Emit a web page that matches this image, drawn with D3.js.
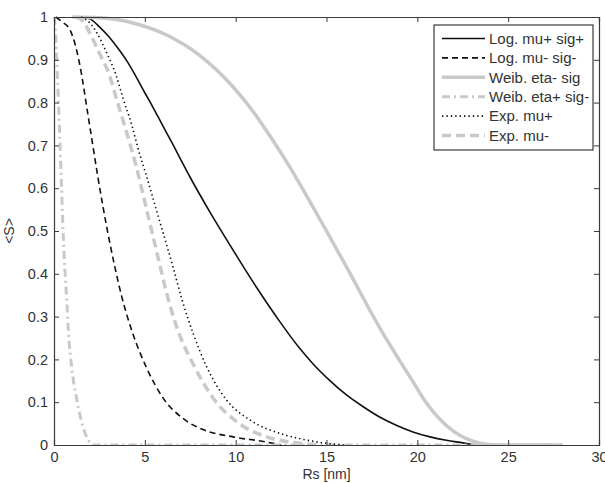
<!DOCTYPE html>
<html>
<head>
<meta charset="utf-8">
<script src="https://cdn.jsdelivr.net/npm/d3@7"></script>
<style>
  html, body { margin: 0; padding: 0; background: #fff; }
  svg { display: block; font-family: "Liberation Sans", Arial, sans-serif; }
</style>
</head>
<body>
<svg id="chart" width="605" height="483"></svg>
<script>
// Survival probability <S> versus radius Rs for six distribution variants.

// Log-normal, mu+ sig+
const rsLogPP = [1.5, 2.0, 2.5, 3.0, 3.5, 4.0, 4.5, 5.0, 5.5, 6.0, 6.5, 7.0, 7.5, 8.0, 8.6, 9.5, 10.3, 11.2, 12.4, 13.5, 14.25, 15.2, 16.1, 17.0, 17.9, 18.9, 19.8, 20.7, 21.6, 22.5, 23.2];
const sLogPP  = [1.0, 0.995, 0.977, 0.955, 0.928, 0.898, 0.862, 0.823, 0.785, 0.745, 0.706, 0.665, 0.625, 0.587, 0.543, 0.48, 0.425, 0.365, 0.29, 0.227, 0.19, 0.15, 0.117, 0.09, 0.066, 0.045, 0.03, 0.019, 0.011, 0.005, 0.0];

// Log-normal, mu- sig-
const rsLogMM = [0.1, 0.4, 0.88, 1.2, 1.5, 1.8, 2.1, 2.4, 2.7, 3.35, 3.74, 4.3, 5.1, 6.0, 7.1, 8.2, 9.85, 11.7, 12.5];
const sLogMM  = [1.0, 0.99, 0.97, 0.93, 0.87, 0.79, 0.71, 0.63, 0.556, 0.416, 0.345, 0.265, 0.18, 0.11, 0.062, 0.036, 0.019, 0.007, 0.0];

// Weibull, eta- sig
const rsWeibM = [1.0, 2.5, 4.35, 6.2, 8.0, 9.85, 11.0, 12.0, 13.0, 14.0, 15.0, 16.1, 17.9, 19.8, 20.5, 21.2, 22.0, 22.7, 23.6, 24.5, 28.0];
const sWeibM  = [1.0, 0.998, 0.986, 0.958, 0.911, 0.837, 0.777, 0.715, 0.648, 0.575, 0.5, 0.416, 0.276, 0.145, 0.098, 0.062, 0.032, 0.015, 0.003, 0.0, 0.0];

// Weibull, eta+ sig-
const rsWeibP = [0.0, 0.1, 0.2, 0.3, 0.4, 0.5, 0.6, 0.7, 0.8, 0.97, 1.26, 1.6, 2.0, 2.2, 28.0];
const sWeibP  = [1.0, 0.95, 0.85, 0.74, 0.62, 0.5, 0.41, 0.339, 0.26, 0.183, 0.105, 0.042, 0.005, 0.0, 0.0];

// Exponential, mu+
const rsExpP = [1.5, 2.0, 2.4, 2.9, 3.4, 3.8, 4.3, 4.6, 5.1, 5.7, 6.55, 7.05, 7.7, 8.4, 9.5, 10.8, 12.6, 13.5, 14.8, 16.0];
const sExpP  = [1.0, 0.985, 0.96, 0.916, 0.866, 0.81, 0.745, 0.697, 0.627, 0.54, 0.416, 0.339, 0.256, 0.183, 0.105, 0.058, 0.025, 0.015, 0.005, 0.0];

// Exponential, mu-
const rsExpM = [1.2, 1.6, 2.0, 2.5, 3.0, 3.5, 4.0, 4.5, 5.1, 5.8, 6.2, 6.8, 7.65, 8.75, 10.1, 11.7, 13.4, 14.5];
const sExpM  = [1.0, 0.99, 0.96, 0.915, 0.87, 0.8, 0.73, 0.655, 0.55, 0.425, 0.355, 0.27, 0.19, 0.11, 0.053, 0.019, 0.005, 0.0];

const legendLabels = ["Log. mu+ sig+", "Log. mu- sig-", "Weib. eta- sig", "Weib. eta+ sig-", "Exp. mu+", "Exp. mu-"];
const xTicks = [0, 5, 10, 15, 20, 25, 30];
const yTicks = [0, 0.1, 0.2, 0.3, 0.4, 0.5, 0.6, 0.7, 0.8, 0.9, 1];
const xLabel = "Rs [nm]";
const yLabel = "<S>";

const lightGray = "#c9c9c9";
const styles = [
  { color: "#111", width: 1.6, dash: null },
  { color: "#111", width: 1.6, dash: "6,4" },
  { color: lightGray, width: 3.5, dash: null },
  { color: lightGray, width: 3, dash: "8,4,2,4" },
  { color: "#111", width: 1.6, dash: "1.4,3" },
  { color: lightGray, width: 3.5, dash: "9,5" }
];

const seriesData = [
  [rsLogPP, sLogPP], [rsLogMM, sLogMM], [rsWeibM, sWeibM],
  [rsWeibP, sWeibP], [rsExpP, sExpP], [rsExpM, sExpM]
].map(([xs, ys], i) => ({
  label: legendLabels[i],
  style: styles[i],
  points: xs.map((x, j) => ({ x, y: ys[j] }))
}));

const svg = d3.select("#chart");
const plot = { left: 54, right: 599, top: 17, bottom: 445 };

const x = d3.scaleLinear().domain([0, 30]).range([plot.left, plot.right]);
const y = d3.scaleLinear().domain([0, 1]).range([plot.bottom, plot.top]);

const axisColor = "#3a3a3a";
const textColor = "#333";
const tickFont = "14.5px";

// Curves
const line = d3.line().x(d => x(d.x)).y(d => y(d.y)).curve(d3.curveMonotoneX);
svg.append("clipPath").attr("id", "plotClip")
  .append("rect")
  .attr("x", plot.left).attr("y", plot.top - 3)
  .attr("width", plot.right - plot.left).attr("height", plot.bottom - plot.top + 3);

const curves = svg.append("g").attr("clip-path", "url(#plotClip)");
seriesData.forEach(s => {
  curves.append("path")
    .datum(s.points)
    .attr("d", line)
    .attr("fill", "none")
    .attr("stroke", s.style.color)
    .attr("stroke-width", s.style.width)
    .attr("stroke-dasharray", s.style.dash)
    .attr("stroke-linejoin", "round");
});

// Axes with inward ticks on all four sides
const tickLen = 5;
const fmtY = d => (d === 0 || d === 1) ? String(d) : d3.format(".1f")(d);

const bottomAxis = d3.axisBottom(x).tickValues(xTicks).tickSize(-tickLen).tickPadding(7).tickFormat(d3.format("d"));
const topAxis = d3.axisTop(x).tickValues(xTicks).tickSize(-tickLen).tickFormat("");
const leftAxis = d3.axisLeft(y).tickValues(yTicks).tickSize(-tickLen).tickPadding(6).tickFormat(fmtY);
const rightAxis = d3.axisRight(y).tickValues(yTicks).tickSize(-tickLen).tickFormat("");

function styleAxis(g) {
  g.select(".domain").attr("stroke", axisColor).attr("stroke-width", 1.2);
  g.selectAll(".tick line").attr("stroke", axisColor).attr("stroke-width", 1);
  g.selectAll(".tick text")
    .attr("fill", textColor)
    .style("font-family", "'Liberation Sans', Arial, sans-serif")
    .style("font-size", tickFont);
}

svg.append("g").attr("transform", `translate(0,${plot.bottom})`).call(bottomAxis).call(styleAxis);
svg.append("g").attr("transform", `translate(0,${plot.top})`).call(topAxis).call(styleAxis);
svg.append("g").attr("transform", `translate(${plot.left},0)`).call(leftAxis).call(styleAxis);
svg.append("g").attr("transform", `translate(${plot.right},0)`).call(rightAxis).call(styleAxis);

// Axis titles
svg.append("text")
  .attr("x", (plot.left + plot.right) / 2)
  .attr("y", 479)
  .attr("text-anchor", "middle")
  .attr("fill", textColor)
  .style("font-size", "14px")
  .text(xLabel);

svg.append("text")
  .attr("transform", `translate(14,${(plot.top + plot.bottom) / 2}) rotate(-90)`)
  .attr("text-anchor", "middle")
  .attr("fill", textColor)
  .style("font-size", "14px")
  .text(yLabel);

// Legend
const legend = { x: 434, y: 25, w: 159, h: 125, rowTop: 38.5, rowStep: 19.4 };
const lg = svg.append("g");
lg.append("rect")
  .attr("x", legend.x).attr("y", legend.y)
  .attr("width", legend.w).attr("height", legend.h)
  .attr("fill", "#fff")
  .attr("stroke", axisColor)
  .attr("stroke-width", 1.2);

seriesData.forEach((s, i) => {
  const ry = legend.rowTop + i * legend.rowStep;
  lg.append("line")
    .attr("x1", legend.x + 8).attr("x2", legend.x + 51)
    .attr("y1", ry).attr("y2", ry)
    .attr("stroke", s.style.color)
    .attr("stroke-width", s.style.width)
    .attr("stroke-dasharray", s.style.dash);
  lg.append("text")
    .attr("x", legend.x + 55)
    .attr("y", ry)
    .attr("dy", "0.35em")
    .attr("fill", textColor)
    .style("font-size", "15px")
    .text(s.label);
});
</script>
</body>
</html>
